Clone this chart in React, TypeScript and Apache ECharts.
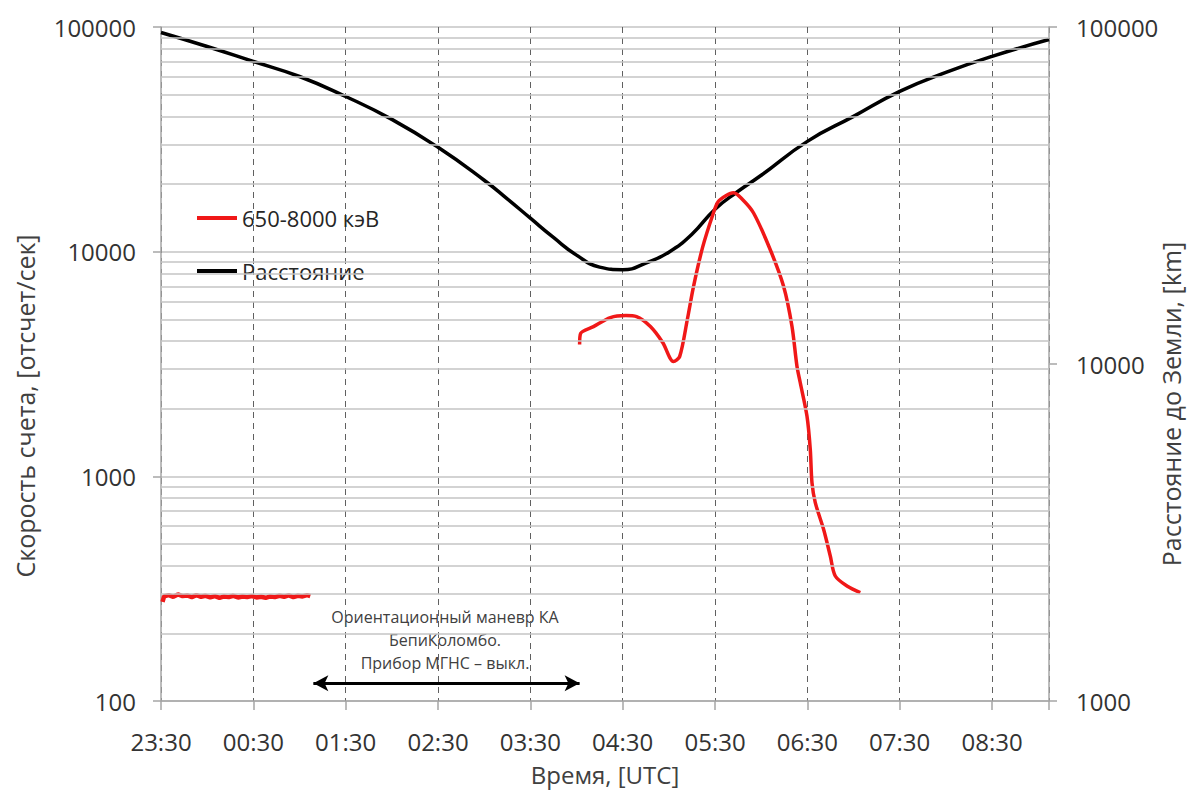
import React, { useEffect, useRef } from 'react';
import * as echarts from 'echarts';

// ---- tick labels / axis ranges ----
const xTickLabels = ['23:30', '00:30', '01:30', '02:30', '03:30', '04:30', '05:30', '06:30', '07:30', '08:30'];
const xAxisStart = '23:30';
const xAxisEnd = '09:07';
const leftAxisTicks = [100, 1000, 10000, 100000];
const rightAxisTicks = [1000, 10000, 100000];
const minorGridValues = [
  200, 300, 400, 500, 600, 700, 800, 900,
  2000, 3000, 4000, 5000, 6000, 7000, 8000, 9000,
  20000, 30000, 40000, 50000, 60000, 70000, 80000, 90000,
];

// ---- count rate 650-8000 keV, before the manoeuvre ----
const countsBeforeTimes = [
  '23:31', '23:32', '23:35', '23:38', '23:41', '23:44', '23:47', '23:50', '23:53', '23:56', '23:59',
  '00:02', '00:05', '00:08', '00:11', '00:14', '00:17', '00:20', '00:23', '00:26', '00:29',
  '00:32', '00:35', '00:38', '00:41', '00:44', '00:47', '00:50', '00:53', '00:56', '00:59',
  '01:02', '01:05', '01:07',
];
const countsBeforeValues = [
  276, 292, 296, 291, 298, 293, 295, 290, 296, 291, 294,
  289, 293, 288, 292, 290, 294, 289, 292, 290, 293,
  289, 291, 288, 292, 290, 294, 291, 295, 290, 294,
  292, 296, 293,
];

// ---- count rate 650-8000 keV, after the manoeuvre ----
const countsAfterTimes = [
  '04:02:00', '04:02:40', '04:11:00', '04:22:00', '04:32:00', '04:39:00', '04:48:00', '04:56:00',
  '05:03:00', '05:07:00', '05:12:00', '05:16:00', '05:22:00', '05:29:00', '05:32:00', '05:37:00',
  '05:42:00', '05:48:00', '05:55:02', '06:05:53', '06:14:32', '06:19:59', '06:23:14', '06:25:23',
  '06:29:44', '06:31:53', '06:32:59', '06:35:08', '06:40:32', '06:44:53', '06:48:08', '06:55:44',
  '07:04:23',
];
const countsAfterValues = [
  3860, 4330, 4640, 5090, 5195, 5140, 4640, 3940,
  3245, 3410, 4990, 6990, 10500, 14900, 16680, 17740,
  18290, 17020, 14860, 10200, 7010, 4656, 3091, 2609,
  1854, 1318, 938, 764, 581, 442, 360, 325,
  304,
];

// ---- distance to Earth, km ----
const distanceTimes = [
  '23:30', '00:00', '00:30', '01:00', '01:30', '02:00', '02:30', '03:00', '03:15', '03:30',
  '03:45', '04:00', '04:15', '04:30', '04:45', '05:00', '05:15', '05:30', '05:45', '06:00',
  '06:30', '07:00', '07:30', '08:00', '08:30', '09:07',
];
const distanceKm = [
  96300, 87500, 79000, 71300, 62200, 53200, 43950, 35100, 30900, 27080,
  23740, 21040, 19390, 19050, 19920, 21470, 24280, 28800, 32550, 36310,
  45780, 54300, 64400, 73300, 81800, 91800,
];

// ---- manoeuvre annotation ----
const maneuverStart = '01:09';
const maneuverEnd = '04:02';
const maneuverLevel = 120;
const maneuverText = ['Ориентационный маневр КА', 'БепиКоломбо.', 'Прибор МГНС – выкл.'];

const seriesNames = ['650-8000 кэВ', 'Расстояние'];
const seriesColors = ['#f01818', '#000000'];

const FONT = 'Open Sans';

function toH(s: string): number {
  const [h, m, sec = 0] = s.split(':').map(Number);
  const [h0, m0] = xAxisStart.split(':').map(Number);
  return (((h * 60 + m + sec / 60) - (h0 * 60 + m0)) + 1440) % 1440 / 60;
}

function pairs(times: string[], vals: number[]) {
  return times.map((t, i) => [toH(t), vals[i]]);
}

export default function App() {
  const ref = useRef<HTMLDivElement>(null);
  useEffect(() => {
    if (!ref.current) return;
    const chart = echarts.init(ref.current, null, { renderer: 'svg' });
    const red = seriesColors[0];
    const option: any = {
      animation: false,
      textStyle: { fontFamily: FONT },
      grid: { left: 161, right: 140, top: 27, bottom: 89, containLabel: false },
      legend: {
        data: seriesNames.map((n, i) => ({
          name: n,
          icon: 'rect',
          itemStyle: { color: seriesColors[i], borderWidth: 0, opacity: 1 },
        })),
        orient: 'vertical',
        left: 192,
        top: 202,
        itemGap: 31,
        itemWidth: 40,
        itemHeight: 4,
        textStyle: { fontSize: 22, color: '#262626', fontFamily: FONT },
      },
      xAxis: {
        type: 'value',
        min: 0,
        max: toH(xAxisEnd),
        interval: 1,
        name: 'Время, [UTC]',
        nameLocation: 'middle',
        nameGap: 61,
        nameTextStyle: { fontSize: 24, color: '#404040', fontFamily: FONT },
        axisLine: { show: true, lineStyle: { color: '#a6a6a6', width: 1.5 } },
        axisTick: { show: true, length: 9, lineStyle: { color: '#a6a6a6', width: 1.5 } },
        axisLabel: {
          fontSize: 24,
          color: '#333',
          margin: 28,
          fontFamily: FONT,
          formatter: (v: number) => (Math.abs(v - Math.round(v)) < 1e-6 ? xTickLabels[Math.round(v)] ?? '' : ''),
        },
        splitLine: { show: true, lineStyle: { color: '#606060', type: [6, 5], width: 1 } },
      },
      yAxis: [
        {
          type: 'log',
          logBase: 10,
          min: leftAxisTicks[0],
          max: leftAxisTicks[leftAxisTicks.length - 1],
          position: 'left',
          axisLine: { show: true, lineStyle: { color: '#a6a6a6', width: 1.5 } },
          axisTick: { show: true, length: 8, lineStyle: { color: '#a6a6a6', width: 1.5 } },
          axisLabel: {
            fontSize: 24,
            color: '#333',
            margin: 25,
            fontFamily: FONT,
            formatter: (v: number) => String(Math.round(v)),
          },
          splitLine: { show: true, lineStyle: { color: '#c4c4c4', width: 1.5 } },
        },
        {
          type: 'log',
          logBase: 10,
          min: rightAxisTicks[0],
          max: rightAxisTicks[rightAxisTicks.length - 1],
          position: 'right',
          axisLine: { show: true, lineStyle: { color: '#a6a6a6', width: 1.5 } },
          axisTick: { show: true, length: 8, lineStyle: { color: '#a6a6a6', width: 1.5 } },
          axisLabel: {
            fontSize: 24,
            color: '#333',
            margin: 27,
            fontFamily: FONT,
            formatter: (v: number) => String(Math.round(v)),
          },
          splitLine: { show: false },
        },
      ],
      graphic: [
        {
          type: 'text',
          x: 25,
          y: 406,
          rotation: Math.PI / 2,
          style: {
            text: 'Скорость счета, [отсчет/сек]',
            fontSize: 25,
            fontFamily: FONT,
            fill: '#404040',
            textAlign: 'center',
            textVerticalAlign: 'middle',
          },
        },
        {
          type: 'text',
          x: 1171,
          y: 404,
          rotation: Math.PI / 2,
          style: {
            text: 'Расстояние до Земли, [km]',
            fontSize: 25,
            fontFamily: FONT,
            fill: '#404040',
            textAlign: 'center',
            textVerticalAlign: 'middle',
          },
        },
        ...maneuverText.map((t, i) => ({
          type: 'text',
          x: 445,
          y: 617 + i * 23,
          style: {
            text: t,
            fontSize: 16,
            fontFamily: FONT,
            fill: '#404040',
            textAlign: 'center',
            textVerticalAlign: 'middle',
          },
        })),
      ],
      series: [
        {
          name: '_grid',
          type: 'line',
          data: [],
          yAxisIndex: 0,
          silent: true,
          z: 1,
          markLine: {
            silent: true,
            symbol: ['none', 'none'],
            label: { show: false },
            lineStyle: { color: '#c4c4c4', width: 1.5, type: 'solid' },
            data: minorGridValues.map((v) => ({ yAxis: v })),
          },
        },
        {
          name: '_maneuver',
          type: 'line',
          data: [],
          yAxisIndex: 0,
          silent: true,
          z: 5,
          markLine: {
            silent: true,
            symbol: ['arrow', 'arrow'],
            symbolSize: [12, 15],
            label: { show: false },
            lineStyle: { color: '#000', width: 3, type: 'solid' },
            data: [[
              { coord: [toH(maneuverStart), maneuverLevel] },
              { coord: [toH(maneuverEnd), maneuverLevel] },
            ]],
          },
        },
        {
          name: seriesNames[1],
          type: 'line',
          yAxisIndex: 1,
          data: pairs(distanceTimes, distanceKm),
          smooth: 0.5,
          showSymbol: false,
          symbol: 'none',
          lineStyle: { color: seriesColors[1], width: 3.5 },
          itemStyle: { color: seriesColors[1] },
          z: 3,
        },
        {
          name: seriesNames[0],
          type: 'line',
          yAxisIndex: 0,
          data: pairs(countsBeforeTimes, countsBeforeValues),
          showSymbol: false,
          symbol: 'none',
          lineStyle: { color: red, width: 4.5 },
          itemStyle: { color: red },
          z: 4,
        },
        {
          name: seriesNames[0],
          type: 'line',
          yAxisIndex: 0,
          data: pairs(countsAfterTimes, countsAfterValues),
          smooth: 0.3,
          showSymbol: false,
          symbol: 'none',
          lineStyle: { color: red, width: 3.5 },
          itemStyle: { color: red },
          z: 4,
        },
      ],
    };
    chart.setOption(option);
    return () => chart.dispose();
  }, []);
  return (
    <div
      ref={ref}
      style={{ position: 'absolute', left: 0, top: 0, width: 1189, height: 791, background: '#fff' }}
    />
  );
}
